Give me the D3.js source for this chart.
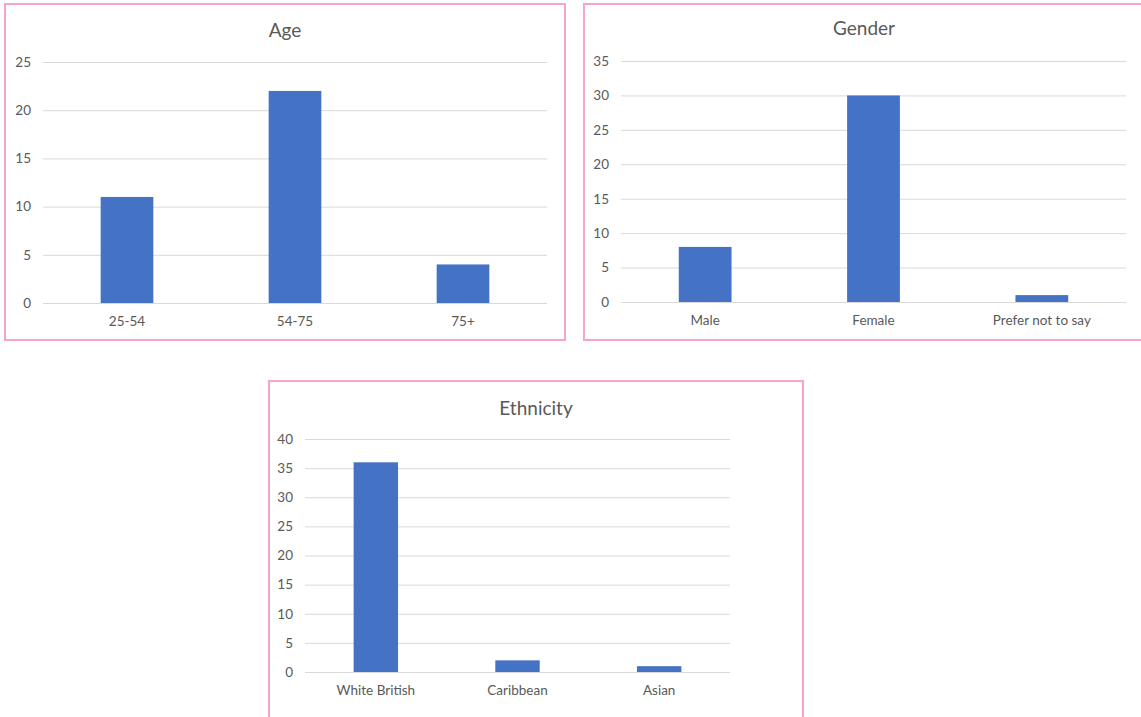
<!DOCTYPE html>
<html>
<head>
<meta charset="utf-8">
<script src="https://cdn.jsdelivr.net/npm/d3@7/dist/d3.min.js"></script>
<style>
  html, body { margin: 0; padding: 0; background: #ffffff; }
  svg { display: block; }
  text { font-family: Lato, "Open Sans", "Liberation Sans", sans-serif; fill: #595959; }
</style>
</head>
<body>
<svg id="chart" width="1141" height="717"></svg>
<script>
// Survey breakdowns
const ageCategories = ["25-54", "54-75", "75+"];
const ageValues = [11, 22, 4];
const ageTicks = [0, 5, 10, 15, 20, 25];

const genderCategories = ["Male", "Female", "Prefer not to say"];
const genderValues = [8, 30, 1];
const genderTicks = [0, 5, 10, 15, 20, 25, 30, 35];

const ethnicityCategories = ["White British", "Caribbean", "Asian"];
const ethnicityValues = [36, 2, 1];
const ethnicityTicks = [0, 5, 10, 15, 20, 25, 30, 35, 40];

const svg = d3.select("#chart");

function drawPanel(cfg) {
  const g = svg.append("g");

  // frame
  g.append("rect")
    .attr("x", cfg.box[0]).attr("y", cfg.box[1])
    .attr("width", cfg.box[2]).attr("height", cfg.box[3])
    .attr("fill", "#ffffff")
    .attr("stroke", "#f5a3cf")
    .attr("stroke-width", 2);

  const x = d3.scaleBand()
    .domain(cfg.categories)
    .range([cfg.plot.left, cfg.plot.right])
    .paddingInner(1 - 1 / 3.19)
    .paddingOuter((1 - 1 / 3.19) / 2);

  const y = d3.scaleLinear()
    .domain([0, d3.max(cfg.ticks)])
    .range([cfg.plot.bottom, cfg.plot.top]);

  // gridlines
  const yAxis = d3.axisLeft(y)
    .tickValues(cfg.ticks)
    .tickSize(-(cfg.plot.right - cfg.plot.left))
    .tickPadding(12)
    .tickFormat(d3.format("d"));

  const ya = g.append("g")
    .attr("transform", `translate(${cfg.plot.left},0)`)
    .call(yAxis);
  ya.select(".domain").remove();
  ya.selectAll(".tick line").attr("stroke", "#d9d9d9").attr("stroke-width", 1);
  ya.selectAll(".tick text")
    .attr("font-size", 13.5)
    .style("fill", "#595959");

  // bars
  g.selectAll("rect.bar")
    .data(cfg.values)
    .join("rect")
    .attr("class", "bar")
    .attr("x", (d, i) => x(cfg.categories[i]))
    .attr("width", x.bandwidth())
    .attr("y", d => y(d))
    .attr("height", d => y(0) - y(d))
    .attr("fill", "#4472c4");

  // category axis
  const xAxis = d3.axisBottom(x).tickSize(0).tickPadding(cfg.labelPad);
  const xa = g.append("g")
    .attr("transform", `translate(0,${cfg.plot.bottom})`)
    .call(xAxis);
  xa.select(".domain").remove();
  xa.selectAll(".tick text")
    .attr("font-size", 13.5)
    .style("fill", "#595959");

  // title
  g.append("text")
    .attr("x", cfg.titlePos[0])
    .attr("y", cfg.titlePos[1])
    .attr("text-anchor", "middle")
    .attr("font-size", 19)
    .text(cfg.title);
}

drawPanel({
  title: "Age",
  box: [5, 4, 560, 336],
  titlePos: [285, 37],
  plot: { left: 43, right: 547, top: 62, bottom: 303 },
  labelPad: 13,
  categories: ageCategories,
  values: ageValues,
  ticks: ageTicks
});

drawPanel({
  title: "Gender",
  box: [584, 4, 570, 336],
  titlePos: [864, 35],
  plot: { left: 621, right: 1126, top: 61, bottom: 302 },
  labelPad: 13,
  categories: genderCategories,
  values: genderValues,
  ticks: genderTicks
});

drawPanel({
  title: "Ethnicity",
  box: [269, 381, 534, 350],
  titlePos: [536, 415],
  plot: { left: 305, right: 730, top: 439, bottom: 672 },
  labelPad: 13,
  categories: ethnicityCategories,
  values: ethnicityValues,
  ticks: ethnicityTicks
});
</script>
</body>
</html>
